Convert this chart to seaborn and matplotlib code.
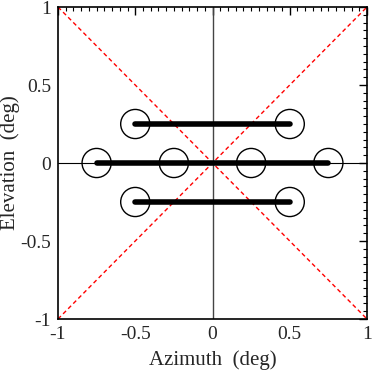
import numpy as np
import pandas as pd
import matplotlib
matplotlib.use("Agg")
import matplotlib.pyplot as plt
from matplotlib.ticker import MultipleLocator, FuncFormatter
import seaborn as sns

# beam positions (deg)
circ_az = [-0.5, 0.5, -0.75, -0.25, 0.25, 0.75, -0.5, 0.5]
circ_el = [0.25, 0.25, 0.0, 0.0, 0.0, 0.0, -0.25, -0.25]

# scan tracks (deg)
track_el = [0.25, 0.0, -0.25]
track_start = [-0.5, -0.75, -0.5]
track_stop = [0.5, 0.75, 0.5]

# diagonals
diag_x = [-1, 1]
diag_y1 = [-1, 1]
diag_y2 = [1, -1]

sns.set_style("white")
plt.rcParams['font.family'] = ['Liberation Serif', 'DejaVu Serif']

fig = plt.figure(figsize=(3.74, 3.75), dpi=100)
ax = fig.add_axes([58/374, 1-319/375, 309/374, 312/375])

ax.axvline(0, color="#444444", lw=1.0, zorder=1)
ax.axhline(0, color="black", lw=0.8, zorder=1)

diag = pd.DataFrame({"x": diag_x + diag_x, "y": diag_y1 + diag_y2,
                     "g": ["a", "a", "b", "b"]})
sns.lineplot(data=diag, x="x", y="y", units="g", estimator=None, ax=ax,
             color="red", lw=1.0, zorder=2)
for l in ax.get_lines()[2:]:
    l.set_linestyle((0, (3, 2.2)))

trk = pd.DataFrame({"x": track_start + track_stop,
                    "y": track_el + track_el,
                    "g": [0, 1, 2, 0, 1, 2]})
sns.lineplot(data=trk, x="x", y="y", units="g", estimator=None, ax=ax,
             color="black", lw=4.0, zorder=3, solid_capstyle="round")

pts = pd.DataFrame({"az": circ_az, "el": circ_el})
sns.scatterplot(data=pts, x="az", y="el", ax=ax, s=440, marker="o",
                facecolor="none", edgecolor="black", linewidth=1.0, zorder=4)

ax.set_xlim(-1, 1)
ax.set_ylim(-1, 1)
ax.xaxis.set_major_locator(MultipleLocator(0.5))
ax.yaxis.set_major_locator(MultipleLocator(0.5))
ax.xaxis.set_minor_locator(MultipleLocator(0.05))
ax.yaxis.set_minor_locator(MultipleLocator(0.05))
ax.xaxis.set_major_formatter(FuncFormatter(lambda v, p: f"{v:g}"))
ax.yaxis.set_major_formatter(FuncFormatter(lambda v, p: f"{v:g}"))
ax.tick_params(which="both", direction="in", top=True, right=True,
               labelsize=14, color="black")
ax.tick_params(which="major", length=6, width=1.0, pad=5)
ax.tick_params(which="minor", length=3, width=0.8)
for s in ax.spines.values():
    s.set_color("black")
    s.set_linewidth(1.2)

ax.set_xlabel("Azimuth  (deg)", fontsize=15, labelpad=5)
ax.set_ylabel("Elevation  (deg)", fontsize=15, labelpad=0)

fig.savefig("out.png", dpi=100)
